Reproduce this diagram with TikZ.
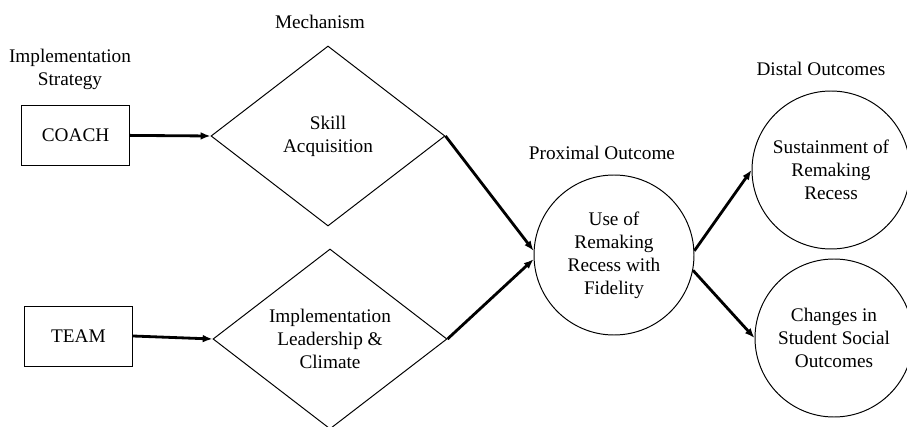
\documentclass[tikz,border=0pt]{standalone}
\usepackage{fontspec}
\setmainfont{Liberation Serif}
\usetikzlibrary{shapes.geometric,arrows.meta}

\begin{document}
\begin{tikzpicture}[scale=1,
  every node/.style={font=\fontsize{13.7}{16.4}\selectfont, align=center},
  stratbox/.style={draw, line width=0.7pt, minimum width=2.7cm, minimum height=1.5cm, inner sep=0pt},
  mech/.style={draw, diamond, line width=0.7pt, minimum width=5.85cm, minimum height=4.5cm, inner sep=0pt, aspect=1.3},
  outc/.style={draw, circle, line width=0.7pt, minimum size=3.95cm, inner sep=0pt},
  link/.style={line width=2pt, -{Latex[length=7pt,width=5.5pt]}}]
\useasboundingbox (0,0) rectangle (22.675,10.675);
%% column titles
\node (stratlbl) at (1.75,8.95) {Implementation\\Strategy};
\node (mechlbl) at (8.0,10.12) {Mechanism};
\node (proxlbl) at (15.05,6.85) {Proximal Outcome};
\node (distlbl) at (20.525,8.95) {Distal Outcomes};
%% strategies
\node[stratbox] (coach) at (1.89,7.29) {COACH};
\node[stratbox] (team) at (1.96,2.275) {TEAM};
%% mechanisms
\node[mech] (skill) at (8.2,7.275) {Skill\\Acquisition};
\node[mech] (lead) at (8.25,2.2) {Implementation\\Leadership \&\\Climate};
%% outcomes
\node[outc, minimum size=4cm] (prox) at (15.35,4.3) {Use of\\Remaking\\Recess with\\Fidelity};
\node[outc] (sust) at (20.775,6.425) {Sustainment of\\Remaking\\Recess};
\node[outc] (social) at (20.85,2.225) {Changes in\\Student Social\\Outcomes};
%% arrows
\draw[link] (coach.east) -- (skill.west);
\draw[link] (team.east) -- (lead.west);
\draw[link] (skill.east) -- (prox.177);
\draw[link] (lead.east) -- (prox.183);
\draw[link] (prox.3) -- (sust.west);
\draw[link] (prox.-11) -- (social.west);
\end{tikzpicture}
\end{document}
